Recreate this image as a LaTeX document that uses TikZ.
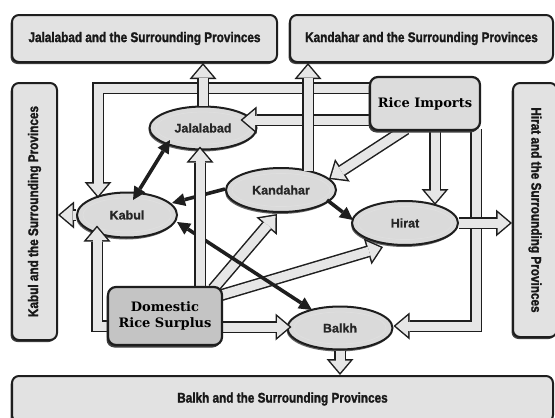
\documentclass[tikz,border=0pt]{standalone}
\usepackage{fontspec}
\setmainfont{Liberation Sans}
\newfontfamily\headfont[FakeStretch=0.84,FakeBold=1.6]{Liberation Sans Bold}
\newfontfamily\cityfont[FakeBold=0.8]{Liberation Sans Bold}
\newfontfamily\srcfont{DejaVu Serif}
\usetikzlibrary{arrows.meta,shadows,calc,shapes.geometric}
\pgfdeclarelayer{bg}
\pgfdeclarelayer{mid}
\pgfsetlayers{bg,mid,main}
\definecolor{edge}{HTML}{1E1E1E}
\definecolor{boxfill}{HTML}{E2E2E2}
\definecolor{ellfill}{HTML}{DADADA}
\definecolor{arrfill}{HTML}{E6E6E6}
\definecolor{dsfill}{HTML}{C4C4C4}
\definecolor{rifill}{HTML}{DCDCDC}
\tikzset{
  region/.style={draw=edge, line width=2pt, fill=boxfill, rounded corners=7pt, inner sep=0pt,
     font=\headfont\fontsize{14}{16}\selectfont, text=black!90,
     drop shadow={shadow xshift=-1.5pt, shadow yshift=-2pt, fill=black!75, opacity=1}},
  city/.style={ellipse, draw=edge, line width=2pt, fill=ellfill, inner sep=0pt,
     font=\cityfont\fontsize{12.5}{15}\selectfont, text=black!85,
     drop shadow={shadow xshift=-1pt, shadow yshift=-2pt, fill=black!60, opacity=1}},
  source/.style={draw=edge, line width=2.2pt, rounded corners=8pt, inner sep=0pt, align=center,
     font=\srcfont\bfseries\fontsize{13}{16}\selectfont,
     drop shadow={shadow xshift=-1.5pt, shadow yshift=-2.5pt, fill=black!75, opacity=1}},
  fat/.style={draw=edge, line width=12pt, line join=miter,
     -{Triangle[length=16pt,width=27pt,line width=0pt]},
     postaction={draw=arrfill, line width=9pt,
       -{Triangle[length=12.2pt,width=20.6pt,line width=0pt]}, shorten >=2.3pt}},
  blk/.style={draw=edge, line width=3.6pt, -{Triangle[length=13pt,width=13pt,line width=0pt]}},
  dblk/.style={draw=edge, line width=3.6pt,
     {Triangle[length=13pt,width=13pt,line width=0pt]}-{Triangle[length=13pt,width=13pt,line width=0pt]}},
  ring/.style={draw=white!75!gray, line width=0.7pt},
}
\begin{document}
\begin{tikzpicture}[x=1pt,y=-1pt]
\useasboundingbox (0,0) rectangle (555,418);
\begin{pgfonlayer}{bg}
\fill[white] (0,0) rectangle (555,418);
% regions
\node[region, minimum width=265pt, minimum height=47pt] (jb) at (144.5,38.5) {Jalalabad and the Surrounding Provinces};
\node[region, minimum width=263pt, minimum height=47pt] (kb) at (421.5,38.5) {Kandahar and the Surrounding Provinces};
\node[region, minimum width=45pt, minimum height=257pt] (lb) at (34.5,211.5) {\rotatebox{90}{Kabul and the Surrounding Provinces}};
\node[region, minimum width=44pt, minimum height=254pt] (hb) at (535,210) {\rotatebox{-90}{Hirat and the Surrounding Provinces}};
\node[region, minimum width=541pt, minimum height=46pt] (bb) at (282.5,399) {Balkh and the Surrounding Provinces};
% cities
\node[city, minimum width=107pt, minimum height=43pt] (jal) at (203,128) {Jalalabad};
\node[city, minimum width=100pt, minimum height=45pt] (kab) at (127,215) {Kabul};
\node[city, minimum width=110pt, minimum height=44pt] (kan) at (281,190) {Kandahar};
\node[city, minimum width=106pt, minimum height=44pt] (hir) at (405,223) {Hirat};
\node[city, minimum width=105pt, minimum height=43pt] (bal) at (340,328) {Balkh};
\draw[ring] (jal.center) ellipse [x radius=47, y radius=16];
\draw[ring] (kab.center) ellipse [x radius=44, y radius=17];
\draw[ring] (kan.center) ellipse [x radius=49, y radius=16.5];
\draw[ring] (hir.center) ellipse [x radius=47, y radius=16.5];
\draw[ring] (bal.center) ellipse [x radius=46, y radius=16];
\end{pgfonlayer}
% sources
\node[source, fill=rifill, minimum width=110pt, minimum height=53pt] (ri) at (425,103.5) {Rice Imports};
\node[source, fill=dsfill, minimum width=114pt, minimum height=58pt] (ds) at (165,316) {Domestic\\Rice Surplus};
\coordinate (k2) at ($(kan.center)+(27,-19)$);
\begin{pgfonlayer}{mid}
% from Rice Imports
\draw[fat] ($(ri.west)+(5,-15.5)$) -| ($(kab.north)+(-29,6.5)$);
\draw[fat] ($(ri.south east)+(-5,-2)$) |- ($(bal.east)+(0,-2)$);
\draw[fat] ($(ri.west)+(5,16.5)$) -- ($(jal.east)+(-17,-8)$);
\draw[fat] ($(ri.south west)+(37,-2)$) -- ($(kan.center)+(48,-11)$);
\draw[fat] ($(ri.south)+(10,-2)$) -- ($(hir.north)+(30,5)$);
% from Domestic Rice Surplus
\draw[fat] ($(ds.west)+(5,10)$) -| ($(kab.south)+(-30,-13)$);
\draw[fat] ($(ds.north east)+(-10,3)$) -- ($(kan.south)+(-4,1)$);
\draw[fat] ($(ds.east)+(-5,-20)$) -- ($(hir.center)+(-22,24)$);
\draw[fat] ($(ds.east)+(-5,11)$) -- ($(bal.west)+(5,-1)$);
% trade between cities
\draw[dblk] ($(jal.center)+(-33,12)$) -- ($(kab.center)+(6,-15)$);
\draw[blk] ($(kan.west)+(0,-1)$) -- ($(kab.center)+(45,-12)$);
\draw[blk] ($(kan.center)+(46,10)$) -- ($(hir.center)+(-52,-3)$);
\draw[dblk] ($(kab.center)+(50,7)$) -- ($(bal.center)+(-28,-18)$);
\draw[fat] ($(ds.north)+(35,3)$) -- ($(jal.south)+(-3,-4)$);
% to surrounding provinces
\draw[fat] (jal.north) -- (jal.north |- jb.south);
\draw[fat] (k2) -- (k2 |- kb.south);
\draw[fat] (kab.west) -- (kab.west -| lb.east);
\draw[fat] (hir.east) -- (hir.east -| hb.west);
\draw[fat] (bal.south) -- (bal.south |- bb.north);
\end{pgfonlayer}
\end{tikzpicture}
\end{document}
